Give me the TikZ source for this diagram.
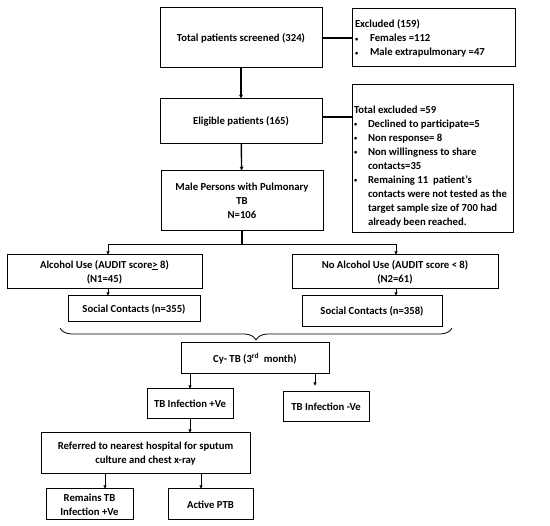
\documentclass[tikz,border=0pt]{standalone}
\usepackage{fontspec}
\setmainfont{Carlito}
\usetikzlibrary{arrows.meta,decorations.pathreplacing}
\newcommand{\smbul}{\raisebox{0.5pt}{\scalebox{0.6}{\textbullet}}}
\tikzset{
  box/.style={draw, line width=1pt, inner sep=2pt, outer sep=0pt, align=center,
    font=\bfseries\fontsize{10.7}{14}\selectfont},
  exbox/.style={box, inner xsep=0pt, inner ysep=0pt},
  conn/.style={line width=1.4pt},
  arrthick/.style={line width=1.4pt, -{Latex[length=4pt,width=4pt]}},
  arrthin/.style={line width=0.8pt, -{Latex[length=3.5pt,width=3.5pt]}},
  bracestyle/.style={line width=0.8pt, decorate, decoration={brace, mirror, amplitude=12pt}}
}
\begin{document}
\begin{tikzpicture}[x=1pt,y=-1pt]
\useasboundingbox (0,0) rectangle (550,526);
% main column
\node[box, minimum width=162pt, minimum height=60pt] (total) at (241,38) {Total patients screened (324)};
\node[box, minimum width=162pt, minimum height=45pt] (elig) at (241,121.5) {Eligible patients (165)};
\node[box, minimum width=162pt, minimum height=60pt] (male) at (242,201) {Male Persons with Pulmonary\\TB\\N=106};
% exclusion boxes
\node[exbox, text height=19pt, text depth=39pt, anchor=north] (exc1) at (433.5,9) {%
\begin{tabular}[t]{@{\hspace{3pt}}p{15pt}@{}p{145pt}@{}}
\multicolumn{2}{@{\hspace{3pt}}l@{}}{Excluded (159)}\\
\smbul & Females =112\\
\smbul & Male extrapulmonary =47
\end{tabular}};
\node[exbox, text height=28.5pt, text depth=119.5pt, anchor=north] (exc2) at (432.5,85) {%
\begin{tabular}[t]{@{\hspace{2pt}}p{14pt}@{}p{145pt}@{}}
\multicolumn{2}{@{\hspace{2pt}}l@{}}{Total excluded =59}\\
\smbul & Declined to participate=5\\
\smbul & Non response= 8\\
\smbul & Non willingness to share\\
 & contacts=35\\
\smbul & Remaining 11\ \ patient's\\
 & \mbox{contacts were not tested as the}\\
 & \mbox{target sample size of 700 had}\\
 & already been reached.
\end{tabular}};
% alcohol split
\node[box, minimum width=195pt, minimum height=34pt] (alc) at (104.5,272) {Alcohol Use (AUDIT score\underline{>} 8)\\(N1=45)};
\node[box, minimum width=206pt, minimum height=34pt] (noalc) at (395,272) {No Alcohol Use (AUDIT score < 8)\\(N2=61)};
\node[box, minimum width=132pt, minimum height=26pt] (sc1) at (134,309) {Social Contacts (n=355)};
\node[box, minimum width=140pt, minimum height=31pt] (sc2) at (372,311.5) {Social Contacts (n=358)};
% lower part
\node[box, minimum width=148pt, minimum height=31pt] (cy) at (255,358.5) {Cy- TB (3\textsuperscript{rd}\ \ month)};
\node[box, minimum width=86pt, minimum height=30pt] (pos) at (190,404) {TB Infection +Ve};
\node[box, minimum width=86pt, minimum height=30pt] (neg) at (326,407) {TB Infection -Ve};
\node[box, minimum width=209pt, minimum height=41pt] (ref) at (145.5,453.5) {Referred to nearest hospital for sputum\\culture and chest x-ray};
\node[box, minimum width=87pt, minimum height=31pt] (rem) at (89.5,504.5) {Remains TB\\Infection +Ve};
\node[box, minimum width=85pt, minimum height=31pt] (act) at (210.5,504.5) {Active PTB};
% connectors
\draw[arrthick] (total) -- (elig);
\draw[conn] (total.east) -- (exc1.west |- total.east);
\draw[arrthick] (elig) -- (male);
\draw[conn] ([yshift=4.5pt]elig.east) -- ([yshift=4.5pt]elig.east -| exc2.west);
\coordinate (split) at (242,245);
\draw[conn] (male.south) -- (split);
\draw[arrthin, line width=1pt] (split) -| ([xshift=3.5pt]alc.north);
\draw[arrthin, line width=1pt] (split) -| ([xshift=1pt]noalc.north);
\draw[arrthin, line width=1pt] ([xshift=3.5pt]alc.south) -- ([xshift=3.5pt]alc.south |- sc1.north);
\draw[arrthin, line width=1pt] ([xshift=1pt]noalc.south) -- ([xshift=1pt]noalc.south |- sc2.north);
\coordinate (brL) at (60,328);
\coordinate (brR) at (452,328);
\draw[bracestyle] (brL) -- (brR);
\draw[arrthin] (cy.south -| pos.north) -- (pos.north);
\draw[arrthin, shorten >=6pt] ([xshift=-11pt]neg.north |- cy.south) -- ([xshift=-11pt]neg.north);
\draw[arrthin] (pos.south) -- (pos.south |- ref.north);
\draw[arrthin] ([xshift=15.5pt]rem.north |- ref.south) -- ([xshift=15.5pt]rem.north);
\draw[arrthin] ([xshift=-9.5pt]act.north |- ref.south) -- ([xshift=-9.5pt]act.north);
\end{tikzpicture}
\end{document}
